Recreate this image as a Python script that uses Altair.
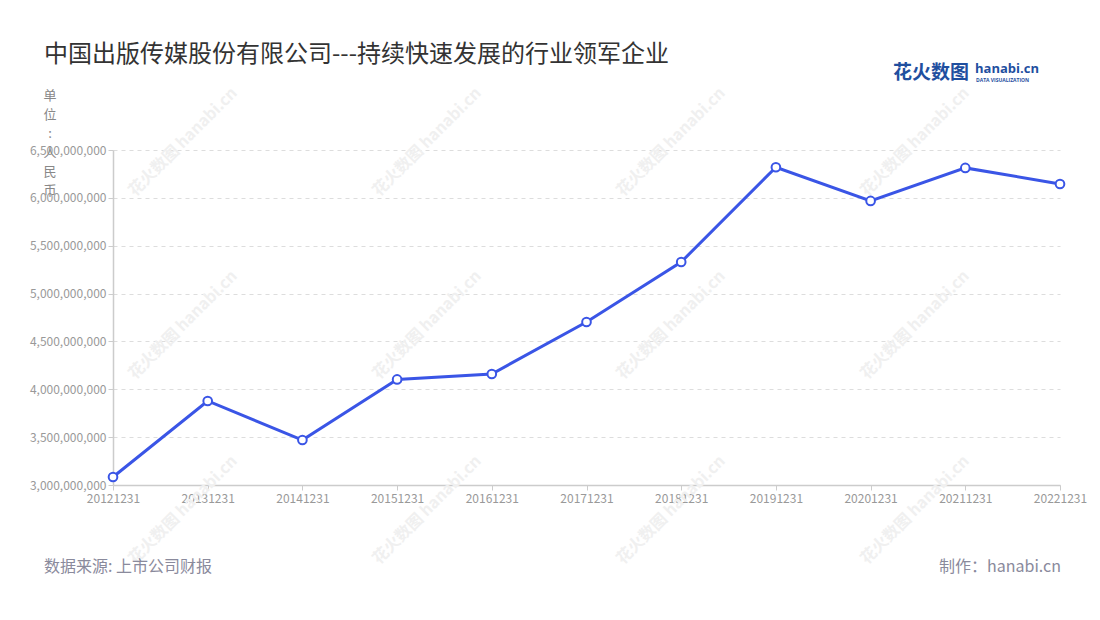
import altair as alt
import pandas as pd

# ---- data ----
dates = ["20121231", "20131231", "20141231", "20151231", "20161231", "20171231",
         "20181231", "20191231", "20201231", "20211231", "20221231"]
values = [3084000000, 3878000000, 3470000000, 4103000000, 4160000000, 4703000000,
          5330000000, 6320000000, 5968000000, 6313000000, 6145000000]
y_ticks = [3000000000, 3500000000, 4000000000, 4500000000, 5000000000,
           5500000000, 6000000000, 6500000000]

title_text = "中国出版传媒股份有限公司---持续快速发展的行业领军企业"
unit_text = "单\n位\n:\n \n人\n民\n币"
source_text = "数据来源: 上市公司财报"
maker_text = "制作：hanabi.cn"

FONT = "Noto Sans CJK SC"
BLUE = "#3a55e6"

df = pd.DataFrame({"date": dates, "value": values})

x_enc = alt.X("date:O", sort=dates,
              scale=alt.Scale(type="point", padding=0),
              axis=alt.Axis(title=None, labelAngle=0, labelColor="#999999", labelFontSize=12,
                            labelFont=FONT, domainColor="#cccccc", domainWidth=1.5,
                            tickColor="#cccccc", tickSize=5, tickWidth=1,
                            labelPadding=3, grid=False, labelOverlap=False,
                            labelBound=False, labelFlush=False))
y_enc = alt.Y("value:Q",
              scale=alt.Scale(domain=[3000000000, 6500000000], nice=False, zero=False),
              axis=alt.Axis(title=None, values=y_ticks, format=",d", labelColor="#999999",
                            labelFontSize=12, labelFont=FONT, domainColor="#cccccc",
                            domainWidth=1.5, tickColor="#cccccc", tickSize=5,
                            labelPadding=2, grid=True, gridColor="#dddddd",
                            gridDash=[4, 4], gridWidth=1))

base = alt.Chart(df)
line = base.mark_line(color=BLUE, strokeWidth=3).encode(x=x_enc, y=y_enc)
points = base.mark_point(filled=True, fill="white", stroke=BLUE, strokeWidth=2,
                         size=75, opacity=1, shape="circle").encode(x=x_enc, y=y_enc)

one = alt.Data(values=[{"a": 1}])

# watermarks
wm_x = [183, 427, 671, 915]
wm_y = [142, 325, 510]
wm_rows = [{"wx": x - 113, "wy": y - 150} for x in wm_x for y in wm_y]
wm = alt.Chart(alt.Data(values=wm_rows)).mark_text(
    text="花火数图 hanabi.cn", angle=315, font=FONT, fontSize=16, fontWeight="bold",
    color="#f0f0f0", align="center", baseline="middle"
).encode(x=alt.X("wx:Q", scale=None), y=alt.Y("wy:Q", scale=None))

title = alt.Chart(one).mark_text(
    text=title_text, font=FONT, fontSize=24, color="#333333", align="left", baseline="middle"
).encode(x=alt.value(44 - 113), y=alt.value(55 - 150))

unit = alt.Chart(one).mark_text(
    text=unit_text, lineBreak="\n", lineHeight=19, font=FONT, fontSize=13,
    color="#888888", align="center", baseline="top"
).encode(x=alt.value(50 - 113), y=alt.value(90 - 150))

source = alt.Chart(one).mark_text(
    text=source_text, font=FONT, fontSize=16, color="#8a8a9c", align="left", baseline="middle"
).encode(x=alt.value(44 - 113), y=alt.value(567 - 150))

maker = alt.Chart(one).mark_text(
    text=maker_text, font=FONT, fontSize=16, color="#8a8a9c", align="right", baseline="middle"
).encode(x=alt.value(1061 - 113), y=alt.value(567 - 150))

logo1 = alt.Chart(one).mark_text(
    text="花火数图", font=FONT, fontSize=19, fontWeight="bold", color="#1f4f9f",
    align="left", baseline="middle"
).encode(x=alt.value(893 - 113), y=alt.value(73 - 150))
logo2 = alt.Chart(one).mark_text(
    text="hanabi.cn", font="Open Sans", fontSize=13, fontWeight="bold", color="#1f4f9f",
    align="left", baseline="middle"
).encode(x=alt.value(975 - 113), y=alt.value(69 - 150))
logo3 = alt.Chart(one).mark_text(
    text="DATA VISUALIZATION", font="Open Sans", fontSize=5, fontWeight="bold",
    color="#1f4f9f", align="left", baseline="middle"
).encode(x=alt.value(976 - 113), y=alt.value(80 - 150))

chart = alt.layer(wm, line, points, title, unit, source, maker, logo1, logo2, logo3).properties(
    width=947, height=335,
    padding={"left": 105, "top": 142, "right": 32, "bottom": 127},
    autosize=alt.AutoSizeParams(type="none"),
    background="white",
).configure_view(stroke=None)

chart.save("out.html", embed_options={"renderer": "svg", "actions": False})
